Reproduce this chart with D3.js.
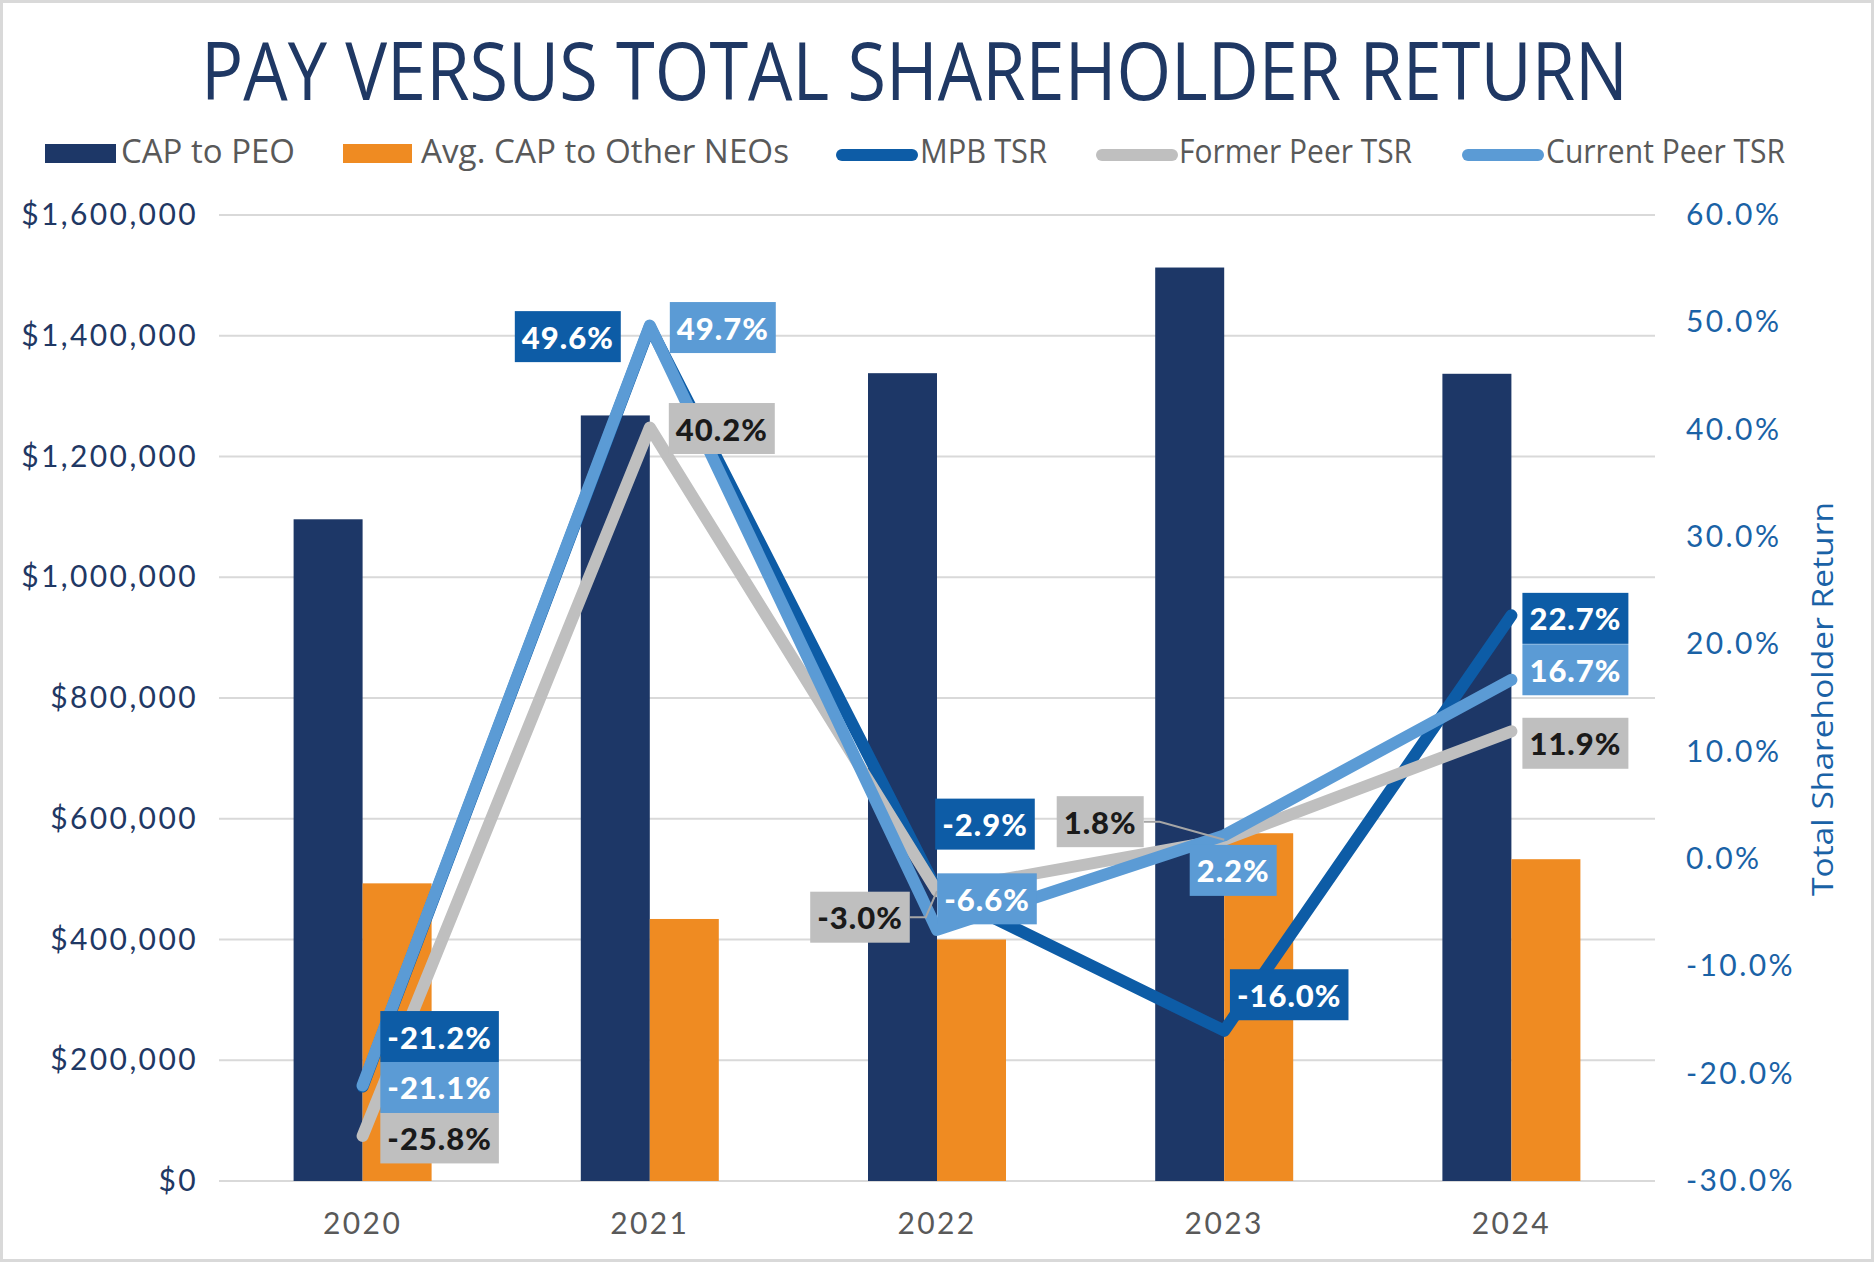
<!DOCTYPE html>
<html><head><meta charset="utf-8">
<script src="https://cdn.jsdelivr.net/npm/d3@7"></script>
<style>body{margin:0;background:#fff}</style>
</head><body>
<svg id="c" width="1874" height="1262"></svg>
<script>
// ---------------- data ----------------
const years = ["2020", "2021", "2022", "2023", "2024"];
const capPEO = [1096000, 1268000, 1338000, 1513000, 1337000];
const capNEO = [493000, 434000, 400000, 576000, 533000];
const mpbTSR = [-21.2, 49.6, -2.9, -16.0, 22.7];
const formerPeerTSR = [-25.8, 40.2, -3.0, 1.8, 11.9];
const currentPeerTSR = [-21.1, 49.7, -6.6, 2.2, 16.7];
const leftTicks = [0, 200000, 400000, 600000, 800000, 1000000, 1200000, 1400000, 1600000];
const rightTicks = [-30, -20, -10, 0, 10, 20, 30, 40, 50, 60];
const legendLabels = ["CAP to PEO", "Avg. CAP to Other NEOs", "MPB TSR", "Former Peer TSR", "Current Peer TSR"];

// ---------------- styling / layout ----------------
const C = {navy: "#1d3767", orange: "#ef8b22", mpb: "#0d5ca6", former: "#bfbfbf", current: "#5b9bd5",
           grid: "#d9d9d9", leftTxt: "#1f3864", rightTxt: "#1a62a6", gray: "#595959"};
const plot = {left: 219, right: 1655, top: 215, bottom: 1181};
// label offsets (box centre relative to point), per series, per year
const labelOffsets = {
  mpb:     [[77, -50], [-82, 10], [48, -66], [65, -36], [64, 3]],
  current: [[77, 2], [73, 2], [50, -31], [9, 35], [64, -10]],
  former:  [[77, 2], [72, 1], [-77, 26], [-124, -18], [64, 12]]
};
const leaderLabels = {former: [2, 3]};
const pct = v => (d3.format(".1f")(v) + "%").replace("\u2212", "-");

const svg = d3.select("#c");
svg.append("rect").attr("x", 1.5).attr("y", 1.5).attr("width", 1871).attr("height", 1259)
  .attr("fill", "#fff").attr("stroke", "#d9d9d9").attr("stroke-width", 3);

// scales
const x = d3.scaleBand().domain(years).range([plot.left, plot.right]).padding(0);
const barW = 69;
const xSub = d3.scaleBand().domain(["peo", "neo"])
  .range([x.bandwidth() / 2 - barW, x.bandwidth() / 2 + barW]).padding(0);
const yL = d3.scaleLinear().domain([0, 1600000]).range([plot.bottom, plot.top]);
const yR = d3.scaleLinear().domain([-30, 60]).range([plot.bottom, plot.top]);

// title
svg.append("text").attr("x", 201).attr("y", 100)
  .attr("textLength", 1427).attr("lengthAdjust", "spacingAndGlyphs")
  .style("font-family", "'Open Sans', sans-serif").style("font-size", "80px")
  .style("fill", C.leftTxt).text("PAY VERSUS TOTAL SHAREHOLDER RETURN");

// legend
const legend = svg.append("g");
const legItems = [
  {type: "rect", color: C.navy, sx: 45, sw: 71, tx: 121, tw: 174},
  {type: "rect", color: C.orange, sx: 343, sw: 69, tx: 421, tw: 368},
  {type: "line", color: C.mpb, sx: 842, sw: 70, tx: 920, tw: 127},
  {type: "line", color: C.former, sx: 1102, sw: 70, tx: 1179, tw: 233},
  {type: "line", color: C.current, sx: 1468, sw: 70, tx: 1546, tw: 239}
];
legItems.forEach((it, i) => {
  if (it.type === "rect") {
    legend.append("rect").attr("x", it.sx).attr("y", 144).attr("width", it.sw).attr("height", 19).attr("fill", it.color);
  } else {
    legend.append("line").attr("x1", it.sx).attr("x2", it.sx + it.sw).attr("y1", 155).attr("y2", 155)
      .attr("stroke", it.color).attr("stroke-width", 12).attr("stroke-linecap", "round");
  }
  legend.append("text").attr("x", it.tx).attr("y", 163)
    .attr("textLength", it.tw).attr("lengthAdjust", "spacingAndGlyphs")
    .style("font-family", "'Open Sans', sans-serif").style("font-size", "32px")
    .style("fill", C.gray).text(legendLabels[i]);
});

// gridlines
svg.append("g").selectAll("line").data(leftTicks).join("line")
  .attr("x1", plot.left).attr("x2", plot.right)
  .attr("y1", d => yL(d)).attr("y2", d => yL(d))
  .attr("stroke", C.grid).attr("stroke-width", 2);

// left axis
const axL = svg.append("g").attr("transform", `translate(${plot.left},0)`)
  .call(d3.axisLeft(yL).tickValues(leftTicks).tickSize(0).tickPadding(21)
    .tickFormat(d => "$" + d3.format(",")(d)));
axL.select(".domain").remove();
axL.selectAll("text").style("font-family", "Lato, sans-serif").style("font-size", "30px")
  .style("letter-spacing", "2.4px").style("fill", C.leftTxt);

// right axis
const axR = svg.append("g").attr("transform", `translate(${plot.right},0)`)
  .call(d3.axisRight(yR).tickValues(rightTicks).tickSize(0).tickPadding(31)
    .tickFormat(pct));
axR.select(".domain").remove();
axR.selectAll("text").style("font-family", "Lato, sans-serif").style("font-size", "30px")
  .style("letter-spacing", "2.4px").style("fill", C.rightTxt);

// right axis title
svg.append("text").attr("transform", `translate(1833,699) rotate(-90)`)
  .attr("text-anchor", "middle").attr("textLength", 394).attr("lengthAdjust", "spacingAndGlyphs")
  .style("font-family", "'Open Sans', sans-serif").style("font-size", "29px")
  .style("fill", C.rightTxt).text("Total Shareholder Return");

// x axis
const axB = svg.append("g").attr("transform", `translate(0,${plot.bottom})`)
  .call(d3.axisBottom(x).tickSize(0).tickPadding(32));
axB.select(".domain").remove();
axB.selectAll("text").style("font-family", "Lato, sans-serif").style("font-size", "30px")
  .style("letter-spacing", "2.4px").style("fill", C.gray);

// bars
const barData = years.map((yr, i) => ({yr, peo: capPEO[i], neo: capNEO[i]}));
const bars = svg.append("g");
bars.selectAll("g").data(barData).join("g")
  .attr("transform", d => `translate(${x(d.yr)},0)`)
  .selectAll("rect").data(d => [{k: "peo", v: d.peo}, {k: "neo", v: d.neo}]).join("rect")
  .attr("x", d => xSub(d.k)).attr("width", xSub.bandwidth())
  .attr("y", d => yL(d.v)).attr("height", d => yL(0) - yL(d.v))
  .attr("fill", d => d.k === "peo" ? C.navy : C.orange);

// lines
const series = [
  {key: "mpb", vals: mpbTSR, color: C.mpb, txt: "#fff"},
  {key: "former", vals: formerPeerTSR, color: C.former, txt: "#1a1a1a"},
  {key: "current", vals: currentPeerTSR, color: C.current, txt: "#fff"}
];
const cx = yr => x(yr) + x.bandwidth() / 2;
const line = d3.line().x((d, i) => cx(years[i])).y(d => yR(d));
svg.append("g").selectAll("path").data(series).join("path")
  .attr("d", s => line(s.vals)).attr("fill", "none")
  .attr("stroke", s => s.color).attr("stroke-width", 12)
  .attr("stroke-linecap", "round").attr("stroke-linejoin", "round");

// data labels
const labG = svg.append("g");
series.forEach(s => {
  s.vals.forEach((v, i) => {
    const px = cx(years[i]), py = yR(v);
    const [dx, dy] = labelOffsets[s.key][i];
    const g = labG.append("g");
    const t = g.append("text").attr("x", px + dx).attr("y", py + dy)
      .attr("text-anchor", "middle").attr("dominant-baseline", "central")
      .style("font-family", "Lato, sans-serif").style("font-weight", "900")
      .style("font-size", "31px").style("letter-spacing", "1px")
      .style("fill", s.txt).text(pct(v));
    const bb = t.node().getBBox();
    const bw = bb.width + 14, bh = 51;
    const bx = px + dx - bw / 2, by = py + dy - bh / 2;
    g.insert("rect", "text").attr("x", bx).attr("y", by).attr("width", bw).attr("height", bh)
      .attr("fill", s.color);
    if (leaderLabels[s.key] && leaderLabels[s.key].includes(i)) {
      const sx = bx + bw, sy = py + dy;
      labG.insert("polyline", ":first-child")
        .attr("points", `${sx},${sy} ${sx + 16},${sy} ${px},${py}`)
        .attr("fill", "none").attr("stroke", "#a6a6a6").attr("stroke-width", 2);
    }
  });
});
</script>
</body></html>
